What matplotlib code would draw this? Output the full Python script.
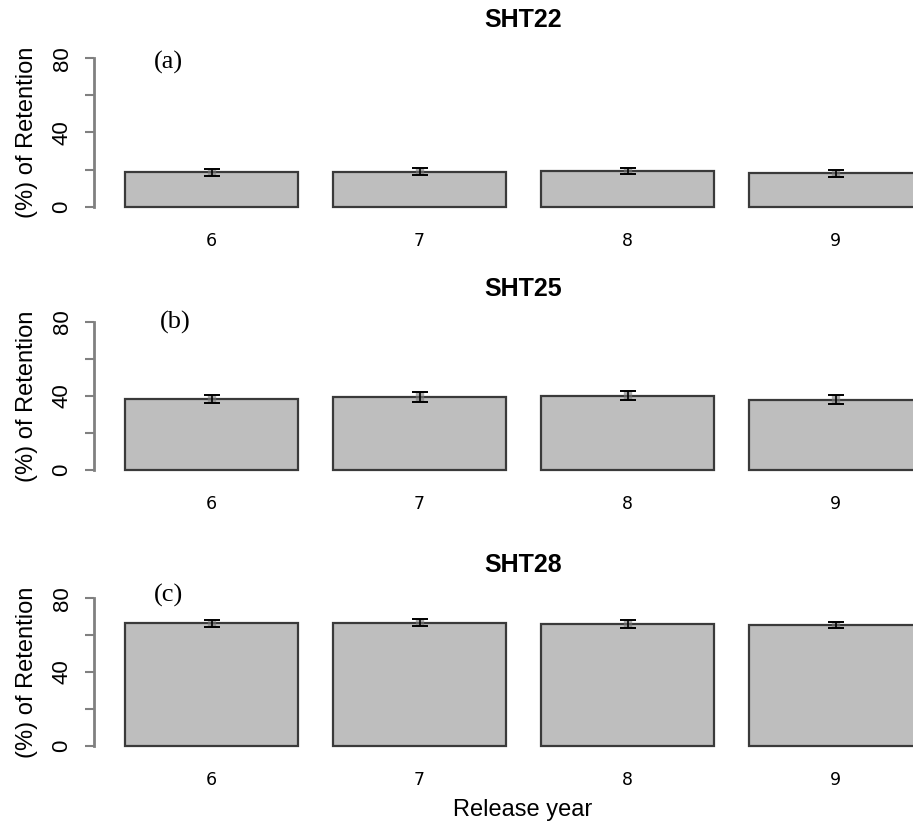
import matplotlib.pyplot as plt
import matplotlib.transforms as mtransforms
import numpy as np

years = ["6", "7", "8", "9"]
panels = ["SHT22", "SHT25", "SHT28"]
letters = ["(a)", "(b)", "(c)"]
sht22 = [18.5, 18.9, 19.3, 18.0]
sht22_err = [2.0, 2.0, 1.8, 1.8]
sht25 = [38.2, 39.3, 40.0, 38.0]
sht25_err = [2.3, 2.8, 2.5, 2.5]
sht28 = [66.4, 66.8, 66.0, 65.5]
sht28_err = [2.0, 1.8, 2.0, 1.8]

values = [sht22, sht25, sht28]
errors = [sht22_err, sht25_err, sht28_err]

# axes rectangles (fig fraction), title heights (axes fraction), letter positions (data)
rects = [[0.103, 0.7426, 0.897, 0.194],
         [0.103, 0.4239, 0.897, 0.1938],
         [0.103, 0.0901, 0.897, 0.1927]]
title_y = [1.20, 1.165, 1.172]
letter_pos = [(0.45, 78), (0.49, 79.8), (0.45, 81.8)]

fig = plt.figure(figsize=(9.13, 8.26), dpi=100)
x = 0.7 + 1.2 * np.arange(len(years))

for i in range(3):
    ax = fig.add_axes(rects[i])
    ax.bar(x, values[i], width=1.0, color="#bebebe", edgecolor="#3a3a3a",
           linewidth=1.6)
    ax.errorbar(x, values[i], yerr=errors[i], fmt="none", ecolor="#7a7a7a",
                elinewidth=6, alpha=0.6)
    ax.errorbar(x, values[i], yerr=errors[i], fmt="none", ecolor="black",
                elinewidth=1.2, capsize=5.5, capthick=1.4)
    ax.set_xlim(0.0213, 4.747)
    ax.set_ylim(-3.2, 83.2)
    for s in ["top", "right", "bottom"]:
        ax.spines[s].set_visible(False)
    ax.spines["left"].set_bounds(0, 80)
    ax.spines["left"].set_color("#808080")
    ax.spines["left"].set_linewidth(2)
    ax.set_yticks([0, 20, 40, 60, 80])
    ax.set_yticklabels(["0", "", "40", "", "80"], rotation=90, va="center",
                       fontsize=16, fontfamily="Liberation Sans")
    ax.tick_params(axis="y", length=6.5, width=1.5, color="#808080", pad=9)
    ax.set_xticks(x)
    ax.set_xticklabels(years, fontsize=12.5, fontfamily="DejaVu Sans")
    ax.tick_params(axis="x", length=0, pad=14)
    ax.set_ylabel("(%) of Retention", fontsize=17, fontfamily="Liberation Sans")
    ax.yaxis.set_label_coords(-0.068, 0.5)
    trans = mtransforms.blended_transform_factory(ax.transData, ax.transAxes)
    ax.text(2.5, title_y[i], panels[i], transform=trans, ha="center",
            va="center", fontsize=18, fontweight="bold",
            fontfamily="Liberation Sans")
    ax.text(letter_pos[i][0], letter_pos[i][1], letters[i], ha="center",
            va="center", fontsize=19, fontfamily="Liberation Serif",
            clip_on=False)

fig.text(523 / 913, 1 - 810 / 826, "Release year", ha="center", va="center",
         fontsize=17, fontfamily="Liberation Sans")

fig.savefig("out.png", dpi=100)
